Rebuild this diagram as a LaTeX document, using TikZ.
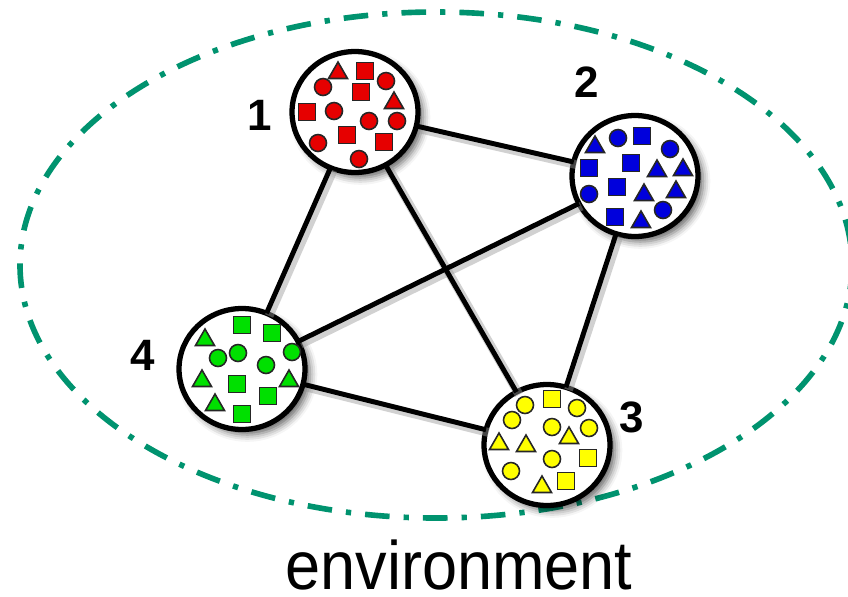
\documentclass[tikz,border=0pt]{standalone}
\usepackage{fontspec}
\setmainfont{Liberation Sans}
\usetikzlibrary{shapes.geometric,shadows.blur}
\definecolor{envGreen}{HTML}{00936F}
\definecolor{grpRed}{HTML}{E60000}
\definecolor{grpBlue}{HTML}{0000DC}
\definecolor{grpGreen}{HTML}{00E000}
\definecolor{grpYellow}{HTML}{FFFF00}

\begin{document}
\begin{tikzpicture}[x=0.02cm,y=-0.02cm,
  group/.style={ellipse,draw=black,line width=3pt,fill=white,
    minimum width=2.52cm,minimum height=2.42cm,inner sep=0pt,outer sep=0pt,
    blur shadow={shadow xshift=3pt,shadow yshift=-3pt,shadow blur radius=4pt,shadow opacity=60}},
  link/.style={line width=2.8pt,draw=black},
  linkshade/.style={line width=5pt,draw=black!40,opacity=0.45,
    transform canvas={shift={(1.5pt,-1.5pt)}}},
  mk/.style={draw=black!85,line width=0.9pt},
  num/.style={font=\fontsize{25}{25}\selectfont\bfseries,inner sep=0pt},
  env/.style={draw=envGreen,line width=3.2pt,dash pattern=on 14pt off 8pt on 3pt off 8pt}]

\useasboundingbox (0,0) rectangle (848,596);

% environment boundary
\draw[env] (436,265) ellipse [x radius=416, y radius=253];

% groups
\node[group] (n1) at (355,112) {};
\node[group] (n2) at (635,176) {};
\node[group] (n3) at (547,445) {};
\node[group] (n4) at (242,369) {};

% links
\foreach \a/\b in {n1/n2,n1/n4,n1/n3,n2/n4,n2/n3,n4/n3}
  \draw[linkshade] (\a) -- (\b);
\foreach \a/\b in {n1/n2,n1/n4,n1/n3,n2/n4,n2/n3,n4/n3}
  \draw[link] (\a) -- (\b);

% group 1 members
\foreach \x/\y in {365/71,361/92,307/112,347/135,384/142}
  \filldraw[mk,fill=grpRed] (\x-8.5,\y-8.5) rectangle ++(17,17);
\foreach \x/\y in {323/87,386/81,334/111,369/121,397/121,318/143,359/159}
  \filldraw[mk,fill=grpRed] (\x,\y) circle [radius=8.5];
\foreach \x/\y in {338/71,394/101}
  \filldraw[mk,fill=grpRed] (\x,\y-9) -- (\x+9.5,\y+7.5) -- (\x-9.5,\y+7.5) -- cycle;

% group 2 members
\foreach \x/\y in {642/136,589/168,631/163,617/187,615/217}
  \filldraw[mk,fill=grpBlue] (\x-8.5,\y-8.5) rectangle ++(17,17);
\foreach \x/\y in {618/138,670/149,589/194,663/210}
  \filldraw[mk,fill=grpBlue] (\x,\y) circle [radius=8.5];
\foreach \x/\y in {595/145,657/169,683/168,644/193,676/190,641/220}
  \filldraw[mk,fill=grpBlue] (\x,\y-9) -- (\x+9.5,\y+7.5) -- (\x-9.5,\y+7.5) -- cycle;

% group 3 members
\foreach \x/\y in {552/399,588/458,566/481}
  \filldraw[mk,fill=grpYellow] (\x-8.5,\y-8.5) rectangle ++(17,17);
\foreach \x/\y in {525/405,577/408,512/420,552/427,589/428,552/459,511/471}
  \filldraw[mk,fill=grpYellow] (\x,\y) circle [radius=8.5];
\foreach \x/\y in {569/436,499/442,526/444,542/485}
  \filldraw[mk,fill=grpYellow] (\x,\y-9) -- (\x+9.5,\y+7.5) -- (\x-9.5,\y+7.5) -- cycle;

% group 4 members
\foreach \x/\y in {242/325,272/333,237/384,268/396,242/414}
  \filldraw[mk,fill=grpGreen] (\x-8.5,\y-8.5) rectangle ++(17,17);
\foreach \x/\y in {218/358,238/353,266/365,292/352}
  \filldraw[mk,fill=grpGreen] (\x,\y) circle [radius=8.5];
\foreach \x/\y in {205/338,202/379,289/379,215/403}
  \filldraw[mk,fill=grpGreen] (\x,\y-9) -- (\x+9.5,\y+7.5) -- (\x-9.5,\y+7.5) -- cycle;

% numbers
\node[num] (l1) at (260,115) {1};
\node[num] (l2) at (587,82) {2};
\node[num] (l3) at (632,417) {3};
\node[num] (l4) at (143,355) {4};

\node[font=\fontsize{39}{39}\selectfont,anchor=base,inner sep=0pt,text depth=0pt] (envlabel) at (459,589)
  {\scalebox{0.92}[1]{environment}};
\end{tikzpicture}
\end{document}
